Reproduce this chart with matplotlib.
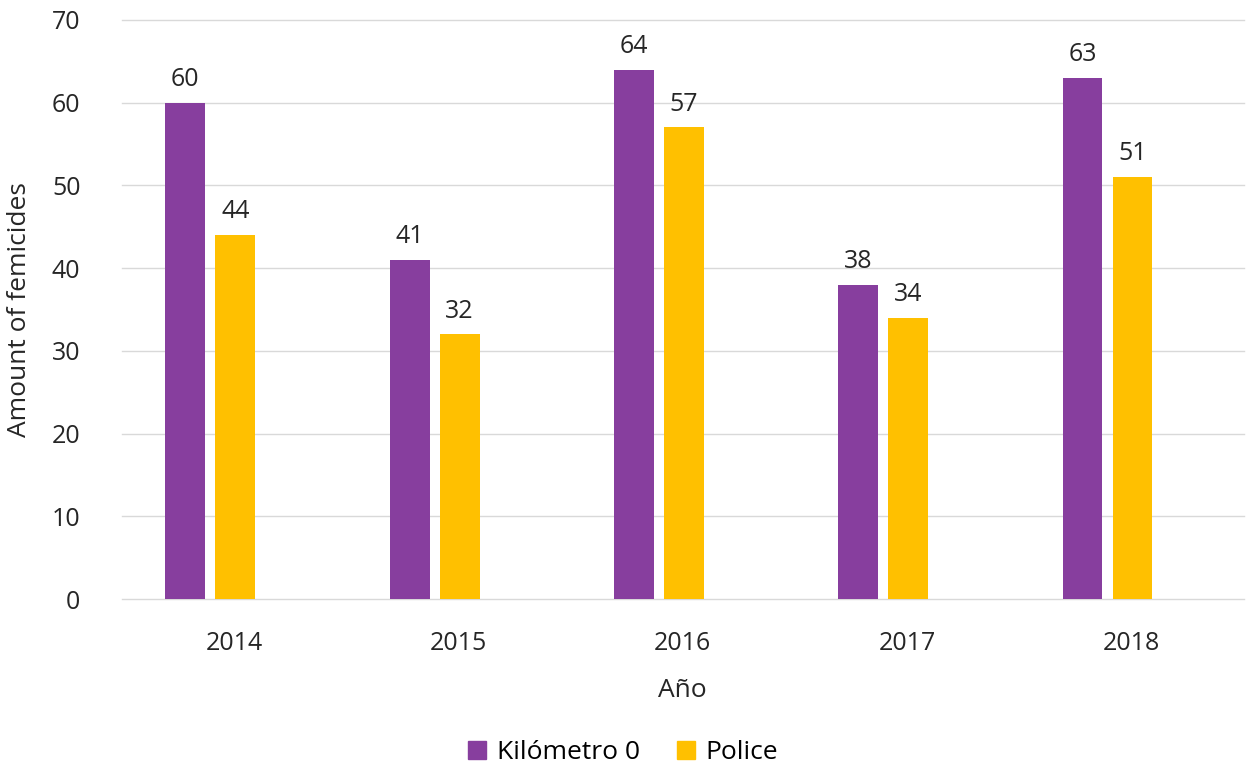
import matplotlib
matplotlib.use("Agg")
import matplotlib.pyplot as plt
from matplotlib.patches import Patch
import numpy as np

plt.rcParams['font.family'] = ['Open Sans', 'DejaVu Sans']

years = ["2014", "2015", "2016", "2017", "2018"]
kilometro = [60, 41, 64, 38, 63]
police = [44, 32, 57, 34, 51]
series_names = ["Kilómetro 0", "Police"]
colors = ["#873E9E", "#FFC000"]

fig = plt.figure(figsize=(12.46, 7.66), dpi=100)
ax = fig.add_axes([0.098, 0.218, 0.900, 0.756])

x = np.arange(len(years))
w = 0.178
off = [-0.218, 0.005]
for vals, o, c in zip([kilometro, police], off, colors):
    bars = ax.bar(x + o, vals, width=w, color=c, zorder=3)
    for b, v in zip(bars, vals):
        ax.text(b.get_x() + b.get_width() / 2, v + 1.3, str(v), ha='center', va='bottom',
                fontsize=18, color='#262626')

ax.set_xlim(-0.5, len(years) - 0.5)
ax.set_ylim(0, 70)
ax.set_yticks(range(0, 71, 10))
ax.set_xticks(x)
ax.set_xticklabels(years)
ax.tick_params(axis='both', length=0, labelsize=18, colors='#262626')
ax.tick_params(axis='x', pad=23)
ax.tick_params(axis='y', pad=30)
ax.grid(axis='y', color='#D9D9D9', linewidth=1, zorder=0)
for gl in ax.get_ygridlines():
    gl.set_clip_on(False)
for s in ax.spines.values():
    s.set_visible(False)
ax.set_ylabel("Amount of femicides", fontsize=19, color='#262626', labelpad=14)
ax.set_xlabel("Año", fontsize=19, color='#262626', labelpad=16)

handles = [Patch(color=c) for c in colors]
fig.legend(handles, series_names, loc='lower center', ncol=2, frameon=False,
           fontsize=19, bbox_to_anchor=(0.5, -0.03), handlelength=0.7, handleheight=0.7,
           columnspacing=1.4, handletextpad=0.4)

fig.savefig("out.png", dpi=100)
